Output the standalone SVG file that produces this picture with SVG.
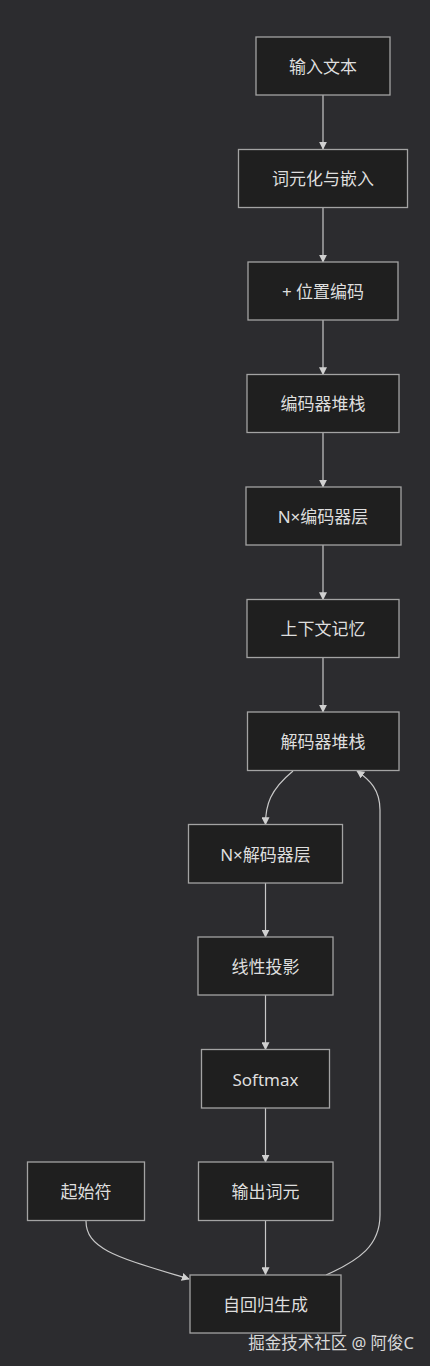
<svg xmlns="http://www.w3.org/2000/svg" width="430" height="1366" viewBox="0 0 430 1366">
<style>
.n rect{fill:#1f1f1f;stroke:#a3a3a3;stroke-width:1.3}
.n text{fill:#dedede;font-family:"Noto Sans","Noto Sans CJK SC",sans-serif;font-size:17px;text-anchor:middle;dominant-baseline:central}
.e path{fill:none;stroke:#c8c8c8;stroke-width:1.2;marker-end:url(#ah)}
</style>
<defs>
<marker id="ah" viewBox="0 0 10 10" refX="9" refY="5" markerWidth="8" markerHeight="8" markerUnits="userSpaceOnUse" orient="auto">
<path d="M0,0 L10,5 L0,10 z" fill="#d0d0d0"/>
</marker>
</defs>
<rect width="430" height="1366" fill="#2c2c2f"/>
<g class="e">
<path d="M323,95 V149"/>
<path d="M323,207.5 V262"/>
<path d="M323,320 V374.5"/>
<path d="M323,432.5 V487"/>
<path d="M323,545 V599.5"/>
<path d="M323,657.5 V712"/>
<path d="M293,771 C270,790 265.5,805 265.5,824.5"/>
<path d="M265.5,883 V937"/>
<path d="M265.5,995 V1049.5"/>
<path d="M265.5,1108 V1162"/>
<path d="M265.5,1220.5 V1274.5"/>
<path d="M86,1221 C86,1250 120,1258 189,1279"/>
<path d="M326,1275 C360,1260 380,1245 380,1215 V810 C380,790 370,780 357,771"/>
</g>
<g class="n" id="n1"><rect x="256" y="37" width="134" height="58"/><text x="323" y="66">输入文本</text></g>
<g class="n" id="n2"><rect x="238.5" y="149.5" width="169" height="58"/><text x="323" y="178.5">词元化与嵌入</text></g>
<g class="n" id="n3"><rect x="248" y="262" width="150" height="58"/><text x="323" y="291">+ 位置编码</text></g>
<g class="n" id="n4"><rect x="247" y="374.5" width="152" height="58"/><text x="323" y="403.5">编码器堆栈</text></g>
<g class="n" id="n5"><rect x="246" y="487" width="155" height="58"/><text x="323" y="516">N×编码器层</text></g>
<g class="n" id="n6"><rect x="247" y="599.5" width="152" height="58"/><text x="323" y="628.5">上下文记忆</text></g>
<g class="n" id="n7"><rect x="247.5" y="712" width="151.5" height="58.5"/><text x="323" y="741">解码器堆栈</text></g>
<g class="n" id="n8"><rect x="188.5" y="824.5" width="154" height="58.5"/><text x="265.5" y="854">N×解码器层</text></g>
<g class="n" id="n9"><rect x="198" y="937" width="135" height="58"/><text x="265.5" y="966">线性投影</text></g>
<g class="n" id="n10"><rect x="201.5" y="1049.5" width="128" height="58.5"/><text x="265.5" y="1079">Softmax</text></g>
<g class="n" id="n11"><rect x="198.5" y="1162" width="134.5" height="58.5"/><text x="265.5" y="1191">输出词元</text></g>
<g class="n" id="n12"><rect x="27.5" y="1162" width="117" height="58.5"/><text x="86" y="1191">起始符</text></g>
<g class="n" id="n13"><rect x="190" y="1275" width="151" height="58"/><text x="265.5" y="1304">自回归生成</text></g>
<text x="414" y="1342" fill="#d8d8d8" font-family="Noto Sans,Noto Sans CJK SC,sans-serif" font-size="16.5" text-anchor="end" dominant-baseline="central">掘金技术社区 @ 阿俊C</text>
</svg>
